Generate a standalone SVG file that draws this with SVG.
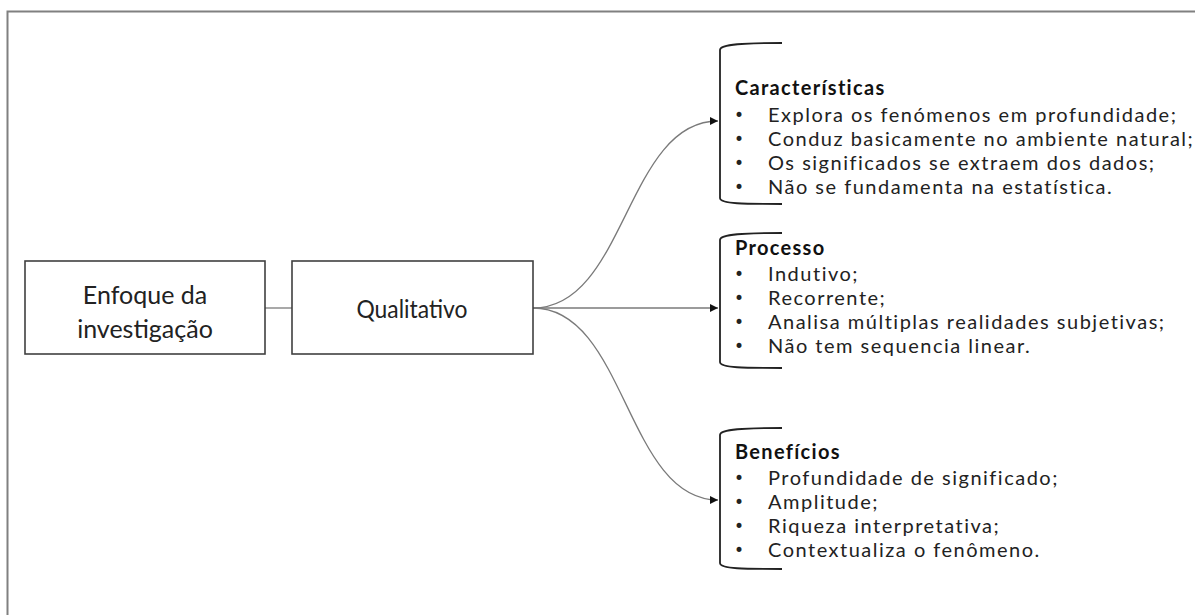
<svg xmlns="http://www.w3.org/2000/svg" width="1195" height="615" viewBox="0 0 1195 615">
<defs>
<style>
.box{fill:#fff;stroke:#404040;stroke-width:1.6}
.lbl{font-family:Lato,"Open Sans",sans-serif;font-size:25px;fill:#222;text-anchor:middle}
.hd{font-family:Lato,"Open Sans",sans-serif;font-size:20px;font-weight:bold;letter-spacing:1.3px;fill:#111}
.it{font-family:Lato,"Open Sans",sans-serif;font-size:20px;letter-spacing:1.5px;fill:#222}
.bul{font-family:"DejaVu Sans",sans-serif;font-size:17px;fill:#222}
.br{fill:none;stroke:#222;stroke-width:1.8}
.con{fill:none;stroke:#7a7a7a;stroke-width:1.3}
</style>
<marker id="ah" markerWidth="10" markerHeight="10" refX="8" refY="4" orient="auto" markerUnits="userSpaceOnUse">
<path d="M0,0 L8,4 L0,8 Z" fill="#111"/>
</marker>
</defs>
<rect x="0" y="0" width="1195" height="615" fill="#fff"/>
<path d="M7.5,615 L7.5,11.5 L1195,11.5" fill="none" stroke="#808080" stroke-width="2"/>
<g id="connectors">
<line class="con" x1="265" y1="308" x2="292" y2="308"/>
<path class="con" d="M533,308 C626,308 626,121 718,121" marker-end="url(#ah)"/>
<line class="con" x1="533" y1="308" x2="718" y2="308" marker-end="url(#ah)"/>
<path class="con" d="M533,308 C626,308 626,500 718,500" marker-end="url(#ah)"/>
</g>
<g id="enfoque">
<rect class="box" x="25" y="261" width="240" height="93"/>
<text class="lbl" x="145" y="304">Enfoque da</text>
<text class="lbl" x="145" y="338">investigação</text>
</g>
<g id="qualitativo">
<rect class="box" x="292" y="261" width="241" height="93"/>
<text class="lbl" x="412" y="318" textLength="111" lengthAdjust="spacingAndGlyphs">Qualitativo</text>
</g>
<g id="caracteristicas">
<path class="br" d="M782,43 C745,43 720,44 720,50 L720,198 C720,204 745,204 782,204"/>
<text class="hd" x="735" y="95">Características</text>
<text class="bul" x="734" y="121">•</text><text class="it" x="768" y="122">Explora os fenómenos em profundidade;</text>
<text class="bul" x="734" y="145">•</text><text class="it" x="768" y="146">Conduz basicamente no ambiente natural;</text>
<text class="bul" x="734" y="169">•</text><text class="it" x="768" y="170">Os significados se extraem dos dados;</text>
<text class="bul" x="734" y="193">•</text><text class="it" x="768" y="194">Não se fundamenta na estatística.</text>
</g>
<g id="processo">
<path class="br" d="M782,233 C745,233 720,234 720,240 L720,362 C720,368 745,368 782,368"/>
<text class="hd" x="735" y="255">Processo</text>
<text class="bul" x="734" y="280">•</text><text class="it" x="768" y="281">Indutivo;</text>
<text class="bul" x="734" y="304">•</text><text class="it" x="768" y="305">Recorrente;</text>
<text class="bul" x="734" y="328">•</text><text class="it" x="768" y="329">Analisa múltiplas realidades subjetivas;</text>
<text class="bul" x="734" y="352">•</text><text class="it" x="768" y="353">Não tem sequencia linear.</text>
</g>
<g id="beneficios">
<path class="br" d="M782,428 C745,428 720,429 720,435 L720,563 C720,569 745,569 782,569"/>
<text class="hd" x="735" y="459">Benefícios</text>
<text class="bul" x="734" y="484">•</text><text class="it" x="768" y="485">Profundidade de significado;</text>
<text class="bul" x="734" y="508">•</text><text class="it" x="768" y="509">Amplitude;</text>
<text class="bul" x="734" y="532">•</text><text class="it" x="768" y="533">Riqueza interpretativa;</text>
<text class="bul" x="734" y="556">•</text><text class="it" x="768" y="557">Contextualiza o fenômeno.</text>
</g>
</svg>
